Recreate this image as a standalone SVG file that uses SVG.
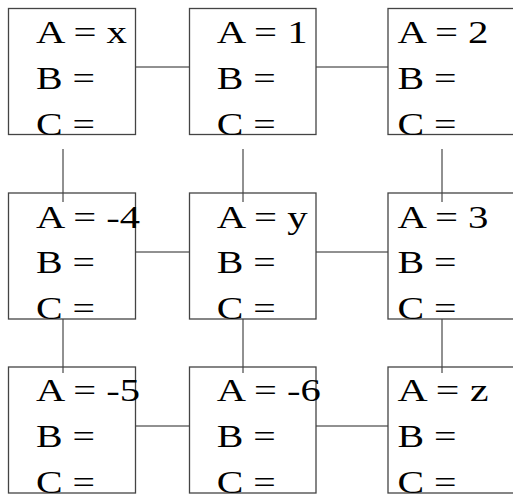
<svg xmlns="http://www.w3.org/2000/svg" width="513" height="495" viewBox="0 0 513 495">
<style>
.box{fill:none;stroke:#444;stroke-width:1.3}
.c{stroke:#222;stroke-width:1;fill:none}
text{font-family:"Liberation Serif","Times New Roman",serif;font-size:31px;fill:#000}
</style>
<rect width="513" height="495" fill="#fff"/>
<g id="connectors">
<line class="c" x1="135.5" y1="67" x2="189.5" y2="67"/>
<line class="c" x1="316" y1="67" x2="388" y2="67"/>
<line class="c" x1="135.5" y1="252" x2="189.5" y2="252"/>
<line class="c" x1="316" y1="252" x2="388" y2="252"/>
<line class="c" x1="135.5" y1="426" x2="189.5" y2="426"/>
<line class="c" x1="316" y1="426" x2="388" y2="426"/>
<line class="c" x1="63" y1="149" x2="63" y2="202"/>
<line class="c" x1="243" y1="149" x2="243" y2="202"/>
<line class="c" x1="442" y1="149" x2="442" y2="202"/>
<line class="c" x1="63" y1="319" x2="63" y2="373"/>
<line class="c" x1="243" y1="319" x2="243" y2="373"/>
<line class="c" x1="442" y1="319" x2="442" y2="373"/>
</g>
<g id="n1">
<rect class="box" x="8.5" y="8.5" width="127" height="126"/>
<text x="36" y="43" textLength="91" lengthAdjust="spacingAndGlyphs">A = x</text>
<text x="36" y="89" textLength="59" lengthAdjust="spacingAndGlyphs">B =</text>
<text x="36" y="135" textLength="59" lengthAdjust="spacingAndGlyphs">C =</text>
</g>
<g id="n2">
<rect class="box" x="189.5" y="8.5" width="126.5" height="126"/>
<text x="216.7" y="43" textLength="91" lengthAdjust="spacingAndGlyphs">A = 1</text>
<text x="216.7" y="89" textLength="59" lengthAdjust="spacingAndGlyphs">B =</text>
<text x="216.7" y="135" textLength="59" lengthAdjust="spacingAndGlyphs">C =</text>
</g>
<g id="n3">
<rect class="box" x="388" y="8.5" width="127" height="126"/>
<text x="397.5" y="43" textLength="91" lengthAdjust="spacingAndGlyphs">A = 2</text>
<text x="397.5" y="89" textLength="59" lengthAdjust="spacingAndGlyphs">B =</text>
<text x="397.5" y="135" textLength="59" lengthAdjust="spacingAndGlyphs">C =</text>
</g>
<g id="n4">
<rect class="box" x="8.5" y="193" width="127" height="126"/>
<text x="36" y="227.5" textLength="104" lengthAdjust="spacingAndGlyphs">A = -4</text>
<text x="36" y="272.5" textLength="59" lengthAdjust="spacingAndGlyphs">B =</text>
<text x="36" y="318.5" textLength="59" lengthAdjust="spacingAndGlyphs">C =</text>
</g>
<g id="n5">
<rect class="box" x="189.5" y="193" width="126.5" height="126"/>
<text x="216.7" y="227.5" textLength="91" lengthAdjust="spacingAndGlyphs">A = y</text>
<text x="216.7" y="272.5" textLength="59" lengthAdjust="spacingAndGlyphs">B =</text>
<text x="216.7" y="318.5" textLength="59" lengthAdjust="spacingAndGlyphs">C =</text>
</g>
<g id="n6">
<rect class="box" x="388" y="193" width="127" height="126"/>
<text x="397.5" y="227.5" textLength="91" lengthAdjust="spacingAndGlyphs">A = 3</text>
<text x="397.5" y="272.5" textLength="59" lengthAdjust="spacingAndGlyphs">B =</text>
<text x="397.5" y="318.5" textLength="59" lengthAdjust="spacingAndGlyphs">C =</text>
</g>
<g id="n7">
<rect class="box" x="8.5" y="367" width="127" height="126"/>
<text x="36" y="401" textLength="104" lengthAdjust="spacingAndGlyphs">A = -5</text>
<text x="36" y="447" textLength="59" lengthAdjust="spacingAndGlyphs">B =</text>
<text x="36" y="493" textLength="59" lengthAdjust="spacingAndGlyphs">C =</text>
</g>
<g id="n8">
<rect class="box" x="189.5" y="367" width="126.5" height="126"/>
<text x="216.7" y="401" textLength="104" lengthAdjust="spacingAndGlyphs">A = -6</text>
<text x="216.7" y="447" textLength="59" lengthAdjust="spacingAndGlyphs">B =</text>
<text x="216.7" y="493" textLength="59" lengthAdjust="spacingAndGlyphs">C =</text>
</g>
<g id="n9">
<rect class="box" x="388" y="367" width="127" height="126"/>
<text x="397.5" y="401" textLength="91" lengthAdjust="spacingAndGlyphs">A = z</text>
<text x="397.5" y="447" textLength="59" lengthAdjust="spacingAndGlyphs">B =</text>
<text x="397.5" y="493" textLength="59" lengthAdjust="spacingAndGlyphs">C =</text>
</g>
</svg>
